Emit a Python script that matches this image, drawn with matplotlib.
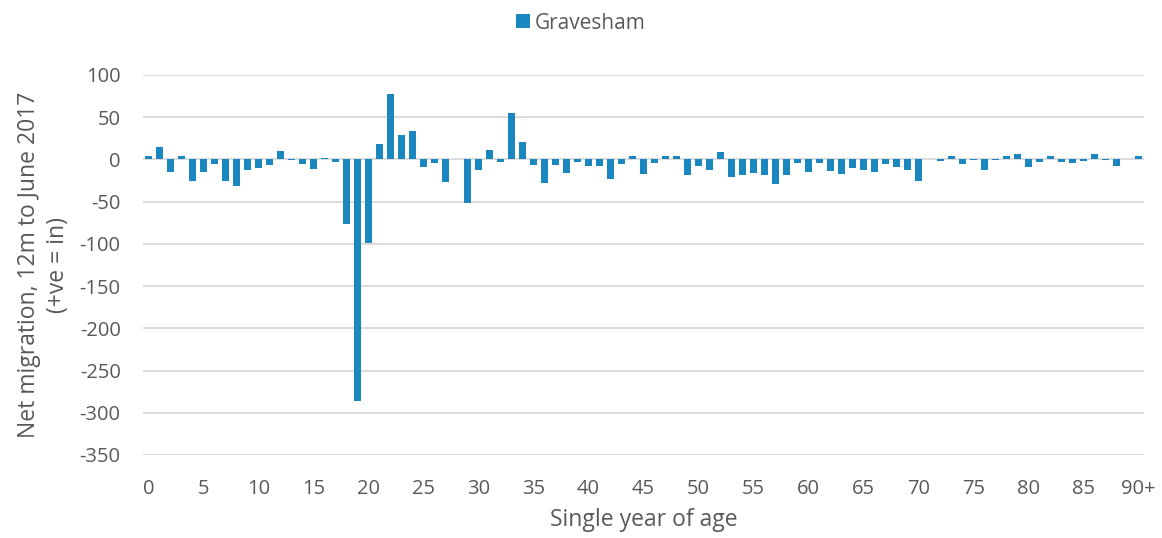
import matplotlib
matplotlib.use("Agg")
import matplotlib.pyplot as plt
import numpy as np

plt.rcParams['font.family'] = ['Open Sans', 'DejaVu Sans']
plt.rcParams['axes.unicode_minus'] = False

# single year of age 0..90+
ages = list(range(91))
net_migration = [
    4, 15, -15, 4, -25, -15, -5, -25, -31, -13,
    -10, -6, 10, -1, -5, -11, 2, -3, -77, -286,
    -99, 18, 78, 29, 34, -9, -4, -27, 1, -52,
    -13, 11, -3, 55, 21, -6, -28, -7, -16, -3,
    -8, -8, -23, -5, 4, -17, -4, 4, 4, -18,
    -8, -12, 9, -21, -19, -16, -18, -29, -19, -4,
    -15, -4, -14, -17, -10, -12, -15, -5, -9, -12,
    -25, 0, -2, 4, -5, -1, -13, -1, 4, 7,
    -9, -3, 4, -3, -4, -2, 6, -1, -8, 1,
    4,
]
tick_pos = list(range(0, 91, 5))
tick_labels = [str(a) for a in range(0, 90, 5)] + ['90+']
yticks = list(range(-350, 101, 50))

azul = '#1a87bf'
gris = '#595959'

fig = plt.figure(figsize=(11.62, 5.38), dpi=100)
ax = fig.add_axes([0.123, 0.1543, 0.8615, 0.7063])

ax.bar(ages, net_migration, width=0.65, color=azul, label='Gravesham', zorder=3)

ax.set_xlim(-0.5, 90.5)
ax.set_ylim(-350, 100)
ax.set_yticks(yticks)
ax.set_xticks(tick_pos)
ax.set_xticklabels(tick_labels)
ax.grid(axis='y', color='#d9d9d9', linewidth=1.3, zorder=0)
for s in ax.spines.values():
    s.set_visible(False)
ax.tick_params(axis='both', length=0, labelsize=14.5, colors=gris)
ax.tick_params(axis='x', pad=17)
ax.tick_params(axis='y', pad=16)

ax.set_xlabel('Single year of age', fontsize=16.5, color=gris, labelpad=7)
ax.set_ylabel('Net migration, 12m to June 2017\n(+ve = in)', fontsize=16.5,
              color=gris, labelpad=7, linespacing=1.25)

fig.legend(*ax.get_legend_handles_labels(), loc='center', bbox_to_anchor=(0.5, 0.957),
           frameon=False, fontsize=15, labelcolor=gris, handlelength=0.65,
           handleheight=0.65, handletextpad=0.25)

fig.savefig('out.png', dpi=100)
